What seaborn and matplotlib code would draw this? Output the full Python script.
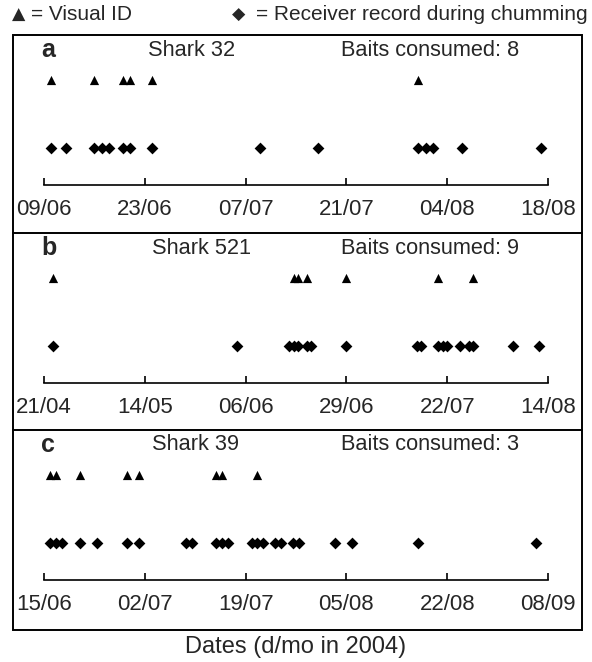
import pandas as pd
import seaborn as sns
import matplotlib.pyplot as plt
from matplotlib.patches import Rectangle
from matplotlib.lines import Line2D

# --- data (d/mo in 2004) ---
# panel a: shark 32
a_visual = ["10/06", "16/06", "20/06", "21/06", "24/06", "31/07"]
a_receiver = ["10/06", "12/06", "16/06", "17/06", "18/06", "20/06", "21/06", "24/06",
              "09/07", "17/07", "31/07", "01/08", "02/08", "06/08", "17/08"]
a_ticks = ["09/06", "23/06", "07/07", "21/07", "04/08", "18/08"]

# panel b: shark 521
b_visual = ["23/04", "17/06", "18/06", "20/06", "29/06", "20/07", "28/07"]
b_receiver = ["23/04", "04/06", "16/06", "17/06", "18/06", "20/06", "21/06", "29/06",
              "15/07", "16/07", "20/07", "21/07", "22/07", "25/07", "27/07", "28/07",
              "06/08", "12/08"]
b_ticks = ["21/04", "14/05", "06/06", "29/06", "22/07", "14/08"]

# panel c: shark 39
c_visual = ["16/06", "17/06", "21/06", "29/06", "01/07", "14/07", "15/07", "21/07"]
c_receiver = ["16/06", "17/06", "18/06", "21/06", "24/06", "29/06", "01/07", "09/07",
              "10/07", "14/07", "15/07", "16/07", "20/07", "21/07", "22/07", "24/07",
              "25/07", "27/07", "28/07", "03/08", "06/08", "17/08", "06/09"]
c_ticks = ["15/06", "02/07", "19/07", "05/08", "22/08", "08/09"]

panel_letters = ["a", "b", "c"]
shark_names = ["Shark 32", "Shark 521", "Shark 39"]
baits = [8, 9, 3]


def to_date(days):
    return pd.to_datetime([d + "/2004" for d in days], format="%d/%m/%Y")


sns.set_theme(style="white")
plt.rcParams['font.family'] = ['Liberation Sans', 'DejaVu Sans']

W, H = 592, 662
fig = plt.figure(figsize=(W / 100, H / 100), dpi=100)

# panel geometry in pixels (top of panel, axis line)
panel_tops = [35, 233, 430]
axis_lines = [185, 383, 580]
frame_bottom = 630
frame_left, frame_right = 13, 582
x_left, x_right = 44, 548
name_x = [148, 152, 152]

panels = [
    (a_visual, a_receiver, a_ticks),
    (b_visual, b_receiver, b_ticks),
    (c_visual, c_receiver, c_ticks),
]

for i, (vis, rec, ticks) in enumerate(panels):
    top, base = panel_tops[i], axis_lines[i]
    ax = fig.add_axes([x_left / W, 1 - base / H, (x_right - x_left) / W, (base - top) / H])
    ax.set_facecolor('none')

    df_vis = pd.DataFrame({"date": to_date(vis), "row": 1})
    df_rec = pd.DataFrame({"date": to_date(rec), "row": 0})
    sns.scatterplot(data=df_rec, x="date", y="row", marker="D", color="black",
                    s=36, linewidth=0, ax=ax, legend=False)
    sns.scatterplot(data=df_vis, x="date", y="row", marker="^", color="black",
                    s=44, linewidth=0, ax=ax, legend=False)

    tick_dates = to_date(ticks)
    ax.set_xlim(tick_dates[0], tick_dates[-1])
    ax.set_ylim(-0.55, 1.66)
    ax.set_xticks(tick_dates)
    ax.set_xticklabels(ticks, fontsize=16)
    ax.set_yticks([])
    ax.set_xlabel("")
    ax.set_ylabel("")
    for side in ["top", "left", "right"]:
        ax.spines[side].set_visible(False)
    ax.spines["bottom"].set_color("black")
    ax.spines["bottom"].set_linewidth(1.2)
    ax.tick_params(axis="x", direction="in", length=5, width=1.2, color="black",
                   pad=10, bottom=True)

    ty = 1 - (top + 15) / H
    fig.text(41 / W, ty, panel_letters[i], fontsize=18, fontweight="bold", va="center")
    fig.text(name_x[i] / W, ty, shark_names[i], fontsize=15.7, va="center")
    fig.text(341 / W, ty, f"Baits consumed: {baits[i]}", fontsize=15.7, va="center")

# outer frame and panel dividers
fig.patches.append(Rectangle((frame_left / W, 1 - frame_bottom / H),
                             (frame_right - frame_left) / W, (frame_bottom - 35) / H,
                             transform=fig.transFigure, fill=False,
                             edgecolor="black", linewidth=1.4))
for y in panel_tops[1:]:
    fig.lines.append(Line2D([frame_left / W, frame_right / W], [1 - y / H, 1 - y / H],
                            transform=fig.transFigure, color="black", linewidth=1.4))

# legend line at the top
fig.text(12 / W, 1 - 15 / H, "\u25B2", fontsize=12.5, va="center", family="DejaVu Sans")
fig.text(31 / W, 1 - 14 / H, "= Visual ID", fontsize=15, va="center")
fig.text(232 / W, 1 - 15 / H, "\u25C6", fontsize=12.5, va="center", family="DejaVu Sans")
fig.text(256 / W, 1 - 14 / H, "= Receiver record during chumming", fontsize=15, va="center")

fig.text(0.5, 1 - 647 / H, "Dates (d/mo in 2004)", fontsize=17, ha="center", va="center")

fig.savefig("out.png", dpi=100)
